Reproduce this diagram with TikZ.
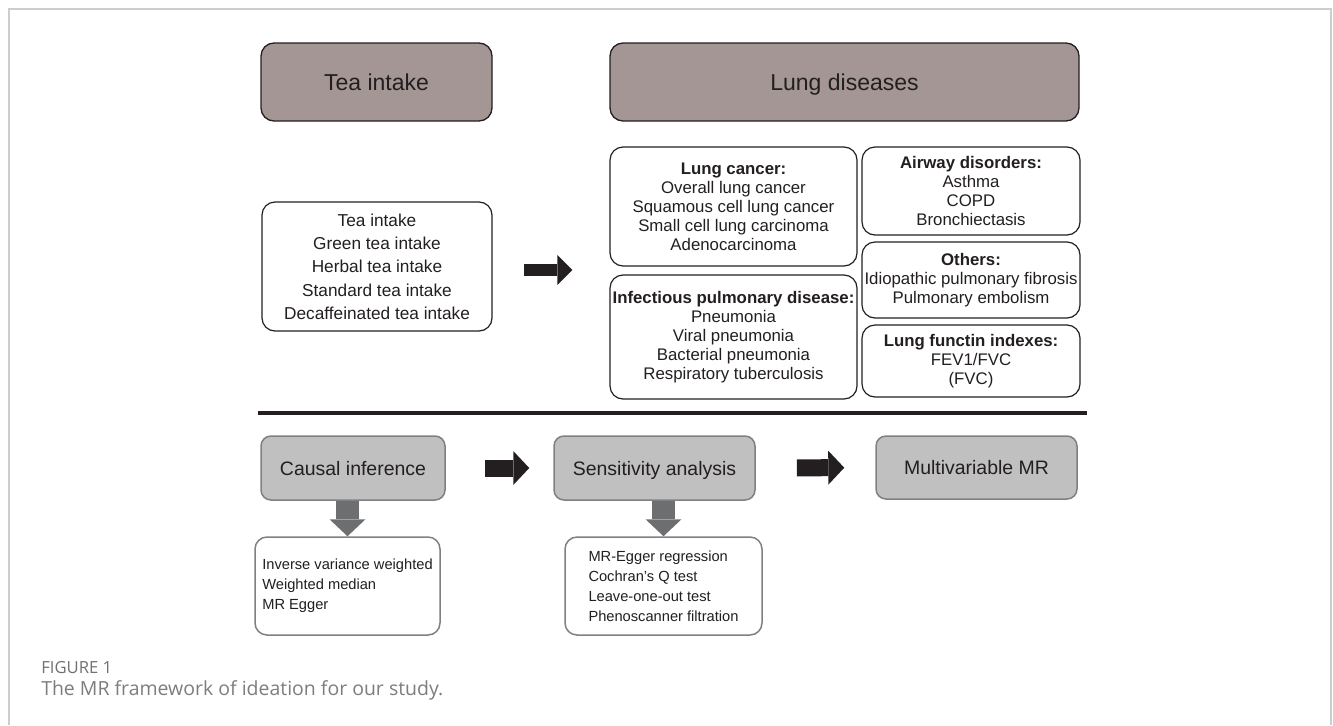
\documentclass[tikz,border=0pt]{standalone}
\usepackage{fontspec}
\setmainfont{Liberation Sans}
\newfontfamily\capfont{Open Sans}
\usetikzlibrary{arrows.meta}
\definecolor{inkdark}{RGB}{35,31,32}
\definecolor{headbrown}{RGB}{164,150,148}
\definecolor{stagegray}{RGB}{192,192,193}
\definecolor{edgegray}{RGB}{128,128,130}
\definecolor{downgray}{RGB}{109,110,112}
\definecolor{framegray}{RGB}{205,205,205}
\definecolor{capgray}{RGB}{125,125,125}
\newlength{\dpx}
\setlength{\dpx}{0.75pt}

\begin{document}
\begin{tikzpicture}[
  x=0.75pt, y=-0.75pt,
  every node/.style={text=inkdark,inner sep=0pt},
  headbox/.style={draw=inkdark,line width=1.3\dpx,rounded corners=13\dpx,fill=headbrown,minimum height=78\dpx,text height=14pt,text depth=1.6pt,font=\fontsize{17.25}{20}\selectfont},
  listbox/.style={draw=inkdark,line width=1.2\dpx,rounded corners=13\dpx,fill=white,align=center,font=\fontsize{12.6}{14.25}\selectfont},
  stagebox/.style={draw=edgegray,line width=1.5\dpx,rounded corners=10\dpx,fill=stagegray,minimum width=201\dpx,minimum height=64\dpx,text height=11.5pt,text depth=1pt,font=\fontsize{14.6}{17}\selectfont},
  methodbox/.style={draw=edgegray,line width=1.5\dpx,rounded corners=12\dpx,fill=white,align=left,minimum height=98\dpx,font=\fontsize{11}{15}\selectfont},
  blockarrow/.style={inkdark,line width=9pt,-{Triangle[length=11.25pt,width=22.5pt,line width=0pt]}},
  stagearrow/.style={inkdark,line width=12.75pt,-{Triangle[length=12pt,width=25.5pt,line width=0pt]}},
  downarrow/.style={downgray,line width=17.25pt,-{Triangle[length=12.75pt,width=27pt,line width=0pt]}}
]
  \useasboundingbox (0,0) rectangle (1333,725);
  \draw[framegray,line width=1.5\dpx] (9,725) -- (9,9) -- (1331,9) -- (1331,725);

  \node[headbox,minimum width=231\dpx] (teahead) at (376.5,82) {Tea intake};
  \node[headbox,minimum width=469\dpx] (lunghead) at (844.5,82) {Lung diseases};

  \node[listbox,minimum width=230\dpx,minimum height=129\dpx,font=\fontsize{12.94}{17.5}\selectfont] (tealist) at (377,266.5)
    {Tea intake\\Green tea intake\\Herbal tea intake\\Standard tea intake\\Decaffeinated tea intake};
  \node[listbox,minimum width=247\dpx,minimum height=119\dpx] (cancer) at (733.5,206.5)
    {\textbf{Lung cancer:}\\Overall lung cancer\\Squamous cell lung cancer\\Small cell lung carcinoma\\Adenocarcinoma};
  \node[listbox,minimum width=247\dpx,minimum height=124\dpx] (infect) at (733.5,337)
    {\textbf{Infectious pulmonary disease:}\\Pneumonia\\Viral pneumonia\\Bacterial pneumonia\\Respiratory tuberculosis};
  \node[listbox,minimum width=218\dpx,minimum height=88\dpx] (airway) at (971,191)
    {\textbf{Airway disorders:}\\Asthma\\COPD\\Bronchiectasis};
  \node[listbox,minimum width=218\dpx,minimum height=76\dpx] (others) at (971,280)
    {\textbf{Others:}\\Idiopathic pulmonary fibrosis\\Pulmonary embolism};
  \node[listbox,minimum width=218\dpx,minimum height=72\dpx] (lungfx) at (971,361)
    {\textbf{Lung functin indexes:}\\FEV1/FVC\\(FVC)};

  \draw[blockarrow,shorten <=31\dpx,shorten >=37\dpx] ([yshift=-3.5\dpx]tealist.east) -- ([yshift=-3.5\dpx]tealist.east -| cancer.west);

  \draw[inkdark,line width=4\dpx] (258,413) -- (1087,413);

  \node[stagebox,minimum width=184\dpx] (causal) at (353,468) {Causal inference};
  \node[stagebox] (sens) at (654.5,468) {Sensitivity analysis};
  \node[stagebox,minimum height=63\dpx] (multi) at (976.5,467.5) {Multivariable MR};

  \node[methodbox,minimum width=185\dpx] (ivw) at (347.5,586)
    {Inverse variance weighted\\Weighted median\\MR Egger};
  \node[methodbox,minimum width=197\dpx] (checks) at (663.5,586)
    {MR-Egger regression\\Cochran's Q test\\Leave-one-out test\\Phenoscanner filtration};

  \draw[stagearrow,shorten <=39\dpx,shorten >=24\dpx] (causal) -- (sens);
  \draw[stagearrow,shorten <=41\dpx,shorten >=31\dpx] (sens) -- (multi);
  \draw[downarrow] (ivw.north |- causal.south) -- (ivw.north);
  \draw[downarrow] (checks.north |- sens.south) -- (checks.north);

  \node[anchor=base west,text=capgray!110,font=\capfont\fontsize{12.5}{14}\selectfont] (fignum) at (41,673) {FIGURE 1};
  \node[anchor=base west,text=capgray,font=\capfont\fontsize{14.6}{17}\selectfont] (figcap) at (41,695) {The MR framework of ideation for our study.};
\end{tikzpicture}
\end{document}
